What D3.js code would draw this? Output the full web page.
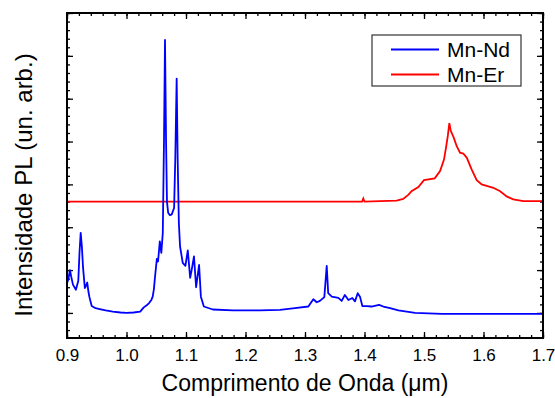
<!DOCTYPE html>
<html>
<head>
<meta charset="utf-8">
<script src="https://cdn.jsdelivr.net/npm/d3@7"></script>
<style>
  body { margin: 0; background: #fff; }
  svg { font-family: "Liberation Sans", Arial, sans-serif; }
</style>
</head>
<body>
<svg id="chart" width="555" height="398"></svg>
<script>
// Mn-Nd spectrum (wavelength in um, intensity in arb. units)
const ndWave = [0.900, 0.902, 0.905, 0.907, 0.910, 0.915, 0.919, 0.921, 0.923, 0.925, 0.927, 0.930, 0.932, 0.934, 0.936, 0.9375, 0.9415, 0.948, 0.955, 0.965, 0.977, 0.990, 1.000, 1.012, 1.023, 1.029, 1.034, 1.038, 1.042, 1.044, 1.046, 1.048, 1.051, 1.053, 1.056, 1.0585, 1.061, 1.063, 1.0647, 1.0665, 1.068, 1.070, 1.073, 1.076, 1.080, 1.082, 1.0843, 1.086, 1.088, 1.090, 1.0945, 1.099, 1.103, 1.107, 1.1095, 1.1134, 1.117, 1.122, 1.125, 1.130, 1.145, 1.179, 1.224, 1.258, 1.283, 1.3056, 1.314, 1.3197, 1.325, 1.3325, 1.3365, 1.339, 1.345, 1.356, 1.3617, 1.367, 1.373, 1.3795, 1.384, 1.3886, 1.3924, 1.3964, 1.4037, 1.412, 1.4244, 1.4317, 1.443, 1.457, 1.485, 1.53, 1.586, 1.70];
const ndInt = [0.70, 0.77, 1.00, 0.85, 0.66, 0.54, 0.75, 1.40, 1.87, 1.55, 1.05, 0.58, 0.64, 0.71, 0.50, 0.38, 0.16, 0.11, 0.09, 0.06, 0.03, 0.01, 0.00, 0.01, 0.03, 0.13, 0.18, 0.23, 0.31, 0.38, 0.55, 0.85, 1.26, 1.20, 1.67, 1.40, 1.87, 4.0, 6.37, 4.0, 2.6, 2.34, 2.28, 2.30, 2.45, 3.6, 5.47, 3.6, 2.1, 1.55, 1.17, 1.10, 1.46, 0.82, 1.00, 1.32, 0.60, 1.12, 0.38, 0.15, 0.08, 0.06, 0.06, 0.07, 0.11, 0.15, 0.32, 0.25, 0.28, 0.37, 1.10, 0.46, 0.38, 0.35, 0.28, 0.42, 0.30, 0.35, 0.27, 0.46, 0.38, 0.16, 0.16, 0.15, 0.19, 0.15, 0.11, 0.06, 0.00, -0.02, -0.02, -0.02];

// Mn-Er spectrum
const erWave = [0.900, 1.396, 1.398, 1.400, 1.426, 1.454, 1.465, 1.474, 1.479, 1.4905, 1.500, 1.518, 1.527, 1.5336, 1.537, 1.540, 1.5426, 1.545, 1.550, 1.555, 1.5605, 1.566, 1.572, 1.580, 1.5886, 1.597, 1.6165, 1.628, 1.639, 1.650, 1.667, 1.700];
const erInt = [2.60, 2.60, 2.67, 2.60, 2.61, 2.62, 2.66, 2.76, 2.84, 2.94, 3.10, 3.14, 3.31, 3.58, 3.86, 4.13, 4.43, 4.25, 4.09, 3.89, 3.74, 3.72, 3.62, 3.35, 3.10, 3.00, 2.92, 2.84, 2.72, 2.65, 2.61, 2.61];

const seriesNames = ["Mn-Nd", "Mn-Er"];
const seriesColors = ["#0000ff", "#ff0000"];
const xTicks = [0.9, 1.0, 1.1, 1.2, 1.3, 1.4, 1.5, 1.6, 1.7];
const yTicks = [0, 1, 2, 3, 4, 5, 6, 7];

const margin = {top: 13, right: 12, bottom: 60, left: 67};
const width = 555, height = 398;

const svg = d3.select("#chart");

const x = d3.scaleLinear().domain([0.9, 1.7]).range([margin.left, width - margin.right]);
const y = d3.scaleLinear().domain([-0.585, 7]).range([height - margin.bottom, margin.top]);

// minor ticks
const xMinor = d3.range(0.9, 1.7001, 0.02).map(v => +v.toFixed(3));
const yMinor = d3.range(-0.4, 7.001, 0.2).map(v => +v.toFixed(2));

function tickAxis(axis, tr, values, size, fmt) {
  const g = svg.append("g")
    .attr("transform", tr)
    .call(axis.tickValues(values).tickSize(size).tickSizeOuter(0).tickFormat(fmt));
  g.select(".domain").remove();
  g.selectAll(".tick line").attr("stroke", "#000").attr("stroke-width", 1.3);
  return g;
}

const bottomY = "translate(0," + (height - margin.bottom) + ")";
const topY = "translate(0," + margin.top + ")";
const leftX = "translate(" + margin.left + ",0)";
const rightX = "translate(" + (width - margin.right) + ",0)";
const none = () => "";

tickAxis(d3.axisBottom(x), bottomY, xMinor, -3, none);
tickAxis(d3.axisTop(x), topY, xMinor, -3, none);
tickAxis(d3.axisLeft(y), leftX, yMinor, -3, none);
tickAxis(d3.axisRight(y), rightX, yMinor, -3, none);

const xb = tickAxis(d3.axisBottom(x), bottomY, xTicks, -6, d3.format(".1f"));
xb.selectAll(".tick text")
  .attr("y", 11)
  .attr("font-size", 17)
  .attr("font-family", "Liberation Sans, Arial, sans-serif")
  .attr("fill", "#000");
tickAxis(d3.axisTop(x), topY, xTicks, -6, none);
tickAxis(d3.axisLeft(y), leftX, yTicks, -6, none);
tickAxis(d3.axisRight(y), rightX, yTicks, -6, none);

// series lines
const line = d3.line().x(d => x(d[0])).y(d => y(d[1]));
svg.append("clipPath").attr("id", "clip")
  .append("rect")
  .attr("x", margin.left).attr("y", margin.top)
  .attr("width", width - margin.left - margin.right)
  .attr("height", height - margin.top - margin.bottom);

const nd = ndWave.map((w, i) => [w, ndInt[i]]);
const er = erWave.map((w, i) => [w, erInt[i]]);

svg.append("path").datum(er)
  .attr("d", line)
  .attr("fill", "none")
  .attr("stroke", seriesColors[1])
  .attr("stroke-width", 1.8)
  .attr("clip-path", "url(#clip)");

svg.append("path").datum(nd)
  .attr("d", line)
  .attr("fill", "none")
  .attr("stroke", seriesColors[0])
  .attr("stroke-width", 1.8)
  .attr("stroke-linejoin", "round")
  .attr("clip-path", "url(#clip)");

// frame
svg.append("rect")
  .attr("x", margin.left).attr("y", margin.top)
  .attr("width", width - margin.left - margin.right)
  .attr("height", height - margin.top - margin.bottom)
  .attr("fill", "none")
  .attr("stroke", "#000")
  .attr("stroke-width", 2);

// legend
const legend = svg.append("g").attr("transform", "translate(372,35)");
legend.append("rect")
  .attr("width", 149).attr("height", 51)
  .attr("fill", "#fff")
  .attr("stroke", "#333")
  .attr("stroke-width", 1.2);
seriesNames.forEach((name, i) => {
  const yy = 14.5 + i * 25;
  legend.append("line")
    .attr("x1", 19).attr("x2", 67)
    .attr("y1", yy).attr("y2", yy)
    .attr("stroke", seriesColors[i])
    .attr("stroke-width", 1.8);
  legend.append("text")
    .attr("x", 75).attr("y", yy + 7)
    .attr("font-size", 21)
    .text(name);
});

// axis titles
svg.append("text")
  .attr("x", (margin.left + width - margin.right) / 2)
  .attr("y", 391)
  .attr("text-anchor", "middle")
  .attr("font-size", 23)
  .text("Comprimento de Onda (\u03bcm)");

svg.append("text")
  .attr("transform", "translate(32,185) rotate(-90)")
  .attr("text-anchor", "middle")
  .attr("font-size", 24)
  .text("Intensidade PL (un. arb.)");
</script>
</body>
</html>
